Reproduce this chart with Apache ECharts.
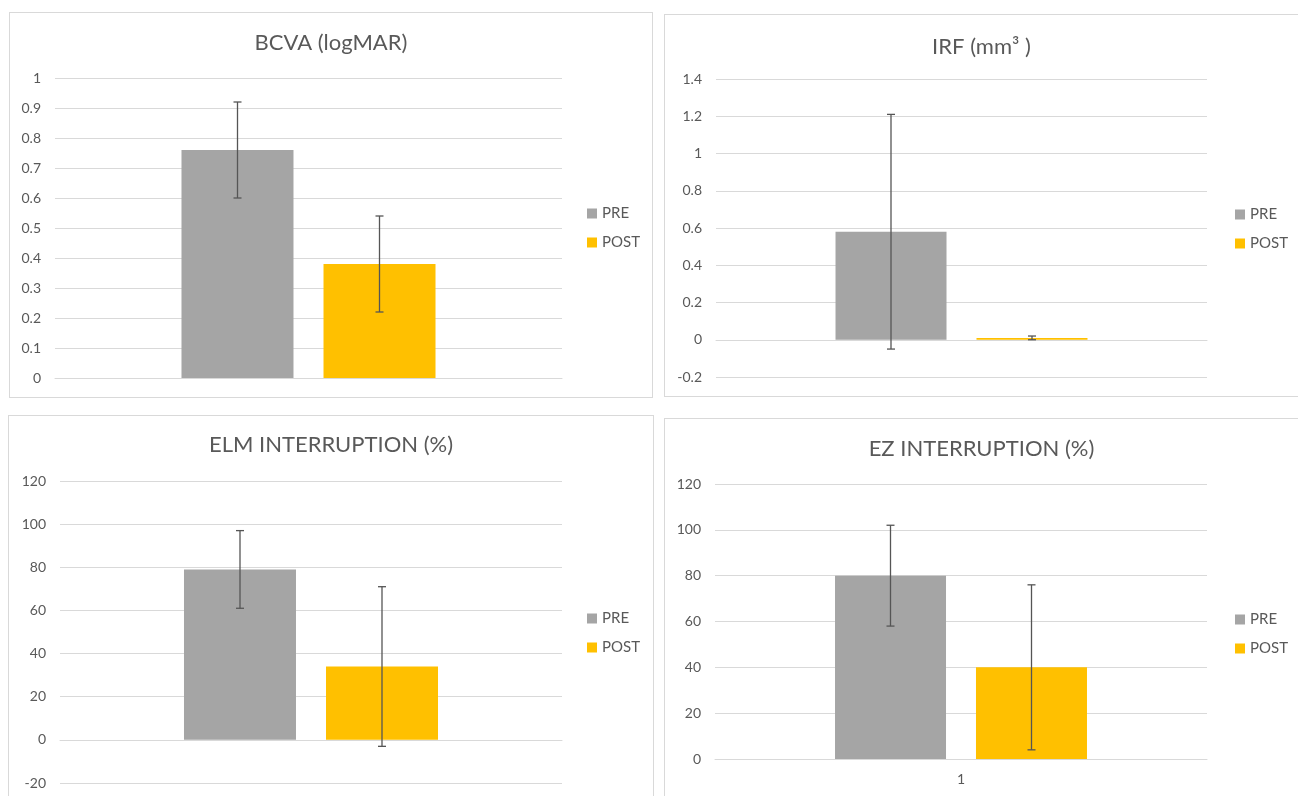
<!DOCTYPE html>
<html>
<head>
<meta charset="utf-8">
<script src="https://cdn.jsdelivr.net/npm/echarts@6/dist/echarts.min.js"></script>
<style>
  html, body { margin: 0; padding: 0; background: #fff; width: 1298px; height: 796px; overflow: hidden; position: relative; }
  .panel { position: absolute; border: 1px solid #d9d9d9; box-sizing: border-box; background: #fff; }
  .panel > div { width: 100%; height: 100%; }
</style>
</head>
<body>
<div class="panel" style="left:9px;top:12px;width:644px;height:386px;"><div id="c0"></div></div>
<div class="panel" style="left:664px;top:14px;width:635px;height:383px;"><div id="c1"></div></div>
<div class="panel" style="left:8px;top:415px;width:646px;height:400px;"><div id="c2"></div></div>
<div class="panel" style="left:664px;top:418px;width:635px;height:400px;"><div id="c3"></div></div>
<script>
// ---- data ----
const panelTitles = ['BCVA (logMAR)', 'IRF (mm\u00B3 )', 'ELM INTERRUPTION (%)', 'EZ INTERRUPTION (%)'];
const categories = ['1'];
const seriesNames = ['PRE', 'POST'];
const preMean  = [0.76, 0.58, 79, 80];
const postMean = [0.38, 0.01, 34, 40];
const preLow   = [0.60, -0.05, 61, 58];
const preHigh  = [0.92, 1.21, 97, 102];
const postLow  = [0.22, 0.00, -3, 4];
const postHigh = [0.54, 0.02, 71, 76];
const yMin  = [0, -0.2, -20, 0];
const yMax  = [1, 1.4, 120, 120];
const yStep = [0.1, 0.2, 20, 20];

// ---- layout / style ----
const grids = [
  { left: 45, top: 65, width: 507, height: 300 },
  { left: 51, top: 64, width: 491, height: 298 },
  { left: 51, top: 65, width: 502, height: 302 },
  { left: 50, top: 65, width: 492, height: 275 }
];
const legendPos = [
  { left: 572, top: 188 },
  { left: 565, top: 187 },
  { left: 573, top: 190 },
  { left: 565, top: 188 }
];
const titleTop = [14, 16, 13, 14];
const barW = [112, 111, 112, 111];
const showX = [false, false, false, true];
const colors = ['#A5A5A5', '#FFC000'];
const FONT = 'Lato, "Open Sans", sans-serif';

function errSeries(name, low, high, offset) {
  return {
    type: 'custom', name: name + ' err', z: 10, silent: true,
    data: [[0, low, high]],
    renderItem: function (params, api) {
      const top = api.coord([api.value(0), api.value(2)]);
      const bot = api.coord([api.value(0), api.value(1)]);
      const x = top[0] + offset;
      const st = { stroke: '#555555', lineWidth: 1.3 };
      return { type: 'group', children: [
        { type: 'line', shape: { x1: x, y1: top[1], x2: x, y2: bot[1] }, style: st },
        { type: 'line', shape: { x1: x - 4, y1: top[1], x2: x + 4, y2: top[1] }, style: st },
        { type: 'line', shape: { x1: x - 4, y1: bot[1], x2: x + 4, y2: bot[1] }, style: st }
      ]};
    }
  };
}

for (let i = 0; i < 4; i++) {
  const chart = echarts.init(document.getElementById('c' + i));
  const off = (barW[i] + 30) / 2;
  chart.setOption({
    animation: false,
    textStyle: { fontFamily: FONT },
    color: colors,
    title: {
      text: panelTitles[i], left: 'center', top: titleTop[i],
      textStyle: { fontFamily: FONT, fontSize: 22, fontWeight: 'normal', color: '#595959' }
    },
    legend: {
      data: seriesNames, orient: 'vertical', left: legendPos[i].left, top: legendPos[i].top,
      icon: 'rect', itemWidth: 10, itemHeight: 10, itemGap: 14,
      textStyle: { fontFamily: FONT, fontSize: 15, color: '#595959' }
    },
    grid: grids[i],
    xAxis: {
      type: 'category', data: categories,
      axisLine: { show: true, lineStyle: { color: '#d9d9d9', width: 1 } },
      axisTick: { show: false },
      axisLabel: { show: showX[i], color: '#595959', fontSize: 14, margin: 13, fontFamily: FONT }
    },
    yAxis: {
      type: 'value', min: yMin[i], max: yMax[i], interval: yStep[i],
      axisLine: { show: false }, axisTick: { show: false },
      axisLabel: { color: '#595959', fontSize: 14, margin: 14, fontFamily: FONT },
      splitLine: { lineStyle: { color: '#d9d9d9', width: 1 } }
    },
    series: [
      { type: 'bar', name: 'PRE', data: [preMean[i]], barWidth: barW[i], barGap: (30 / barW[i] * 100).toFixed(1) + '%', itemStyle: { color: colors[0] } },
      { type: 'bar', name: 'POST', data: [postMean[i]], barWidth: barW[i], itemStyle: { color: colors[1] } },
      errSeries('PRE', preLow[i], preHigh[i], -off),
      errSeries('POST', postLow[i], postHigh[i], off)
    ]
  });
}
</script>
</body>
</html>
